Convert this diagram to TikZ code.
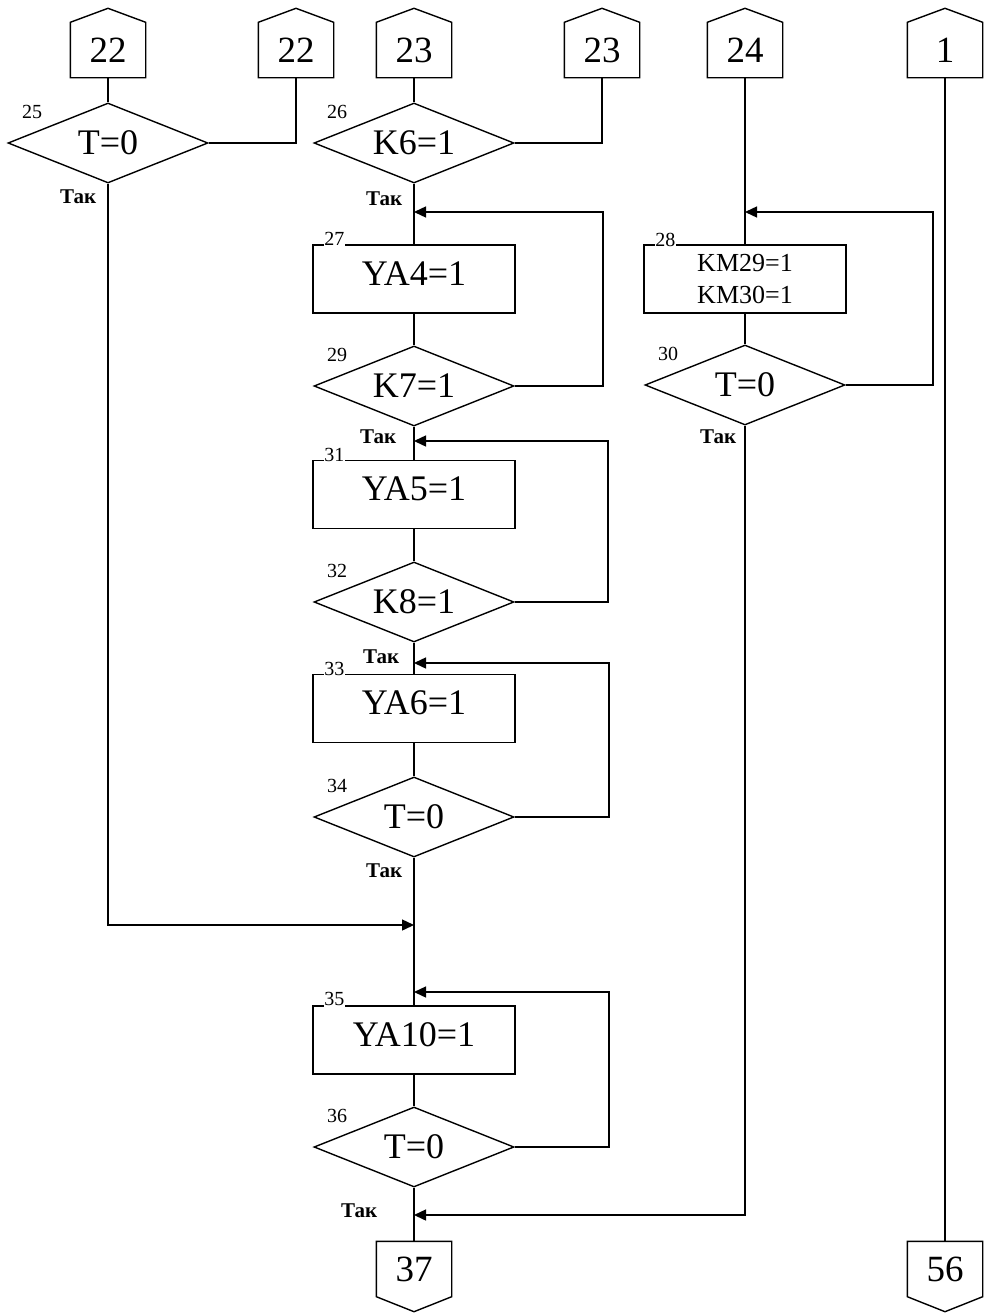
\documentclass[tikz,border=0pt]{standalone}
\usepackage{fontspec}
\setmainfont{Liberation Serif}
\usetikzlibrary{shapes.geometric,arrows.meta,calc}

% off-page connectors: pentagon pointing up (entry) or down (exit)
\newcommand\upcap[1]{\draw (#1.south west) -- (#1.north west) -- ([yshift=14pt]#1.north) -- (#1.north east) -- (#1.south east) -- cycle;}
\newcommand\downcap[1]{\draw (#1.north west) -- (#1.south west) -- ([yshift=-15pt]#1.south) -- (#1.south east) -- (#1.north east) -- cycle;}

\begin{document}
\begin{tikzpicture}[x=1pt,y=-1pt,
  line width=1.4pt, line join=miter,
  big/.style={font=\fontsize{36}{40}\selectfont},
  dec/.style={diamond, draw, inner sep=0pt, minimum width=200pt, minimum height=80pt},
  dtext/.style={big, inner sep=0pt},
  boxbase/.style={rectangle, draw, inner sep=0pt, minimum width=202pt, minimum height=68pt},
  act/.style={boxbase, big, text height=24pt, text depth=12pt},
  act2/.style={boxbase, font=\fontsize{26}{31.5}\selectfont, align=center},
  conn/.style={rectangle, inner sep=0pt, minimum width=74pt, minimum height=54pt, font=\fontsize{37}{40}\selectfont},
  num/.style={inner sep=0.5pt, font=\fontsize{20}{22}\selectfont},
  boxnum/.style={num, fill=white},
  yes/.style={inner sep=0pt, anchor=north east, font=\fontsize{21}{22}\selectfont\bfseries},
  arr/.style={-{Triangle[length=12pt,width=11pt]}},
]
\useasboundingbox (0,0) rectangle (985,1314);

% connectors
\node[conn] (c22a) at (108,50) {22};
\node[conn] (c22b) at (296,50) {22};
\node[conn] (c23a) at (414,50) {23};
\node[conn] (c23b) at (602,50) {23};
\node[conn] (c24)  at (745,50) {24};
\node[conn] (c1)   at (945,50) {1};
\node[conn] (c37)  at (414,1269) {37};
\node[conn] (c56)  at (945,1269) {56};
\upcap{c22a}\upcap{c22b}\upcap{c23a}\upcap{c23b}\upcap{c24}\upcap{c1}
\downcap{c37}\downcap{c56}

% decisions (fixed-size outline, condition text laid on top)
\node[dec] (d25) at (108,143) {};  \node[dtext] (t25) at (d25) {T=0};
\node[dec] (d26) at (414,143) {};  \node[dtext] (t26) at (d26) {K6=1};
\node[dec] (d29) at (414,386) {};  \node[dtext] (t29) at (d29) {K7=1};
\node[dec] (d32) at (414,602) {};  \node[dtext] (t32) at (d32) {K8=1};
\node[dec] (d34) at (414,817) {};  \node[dtext] (t34) at (d34) {T=0};
\node[dec] (d36) at (414,1147) {}; \node[dtext] (t36) at (d36) {T=0};
\node[dec] (d30) at (745,385) {};  \node[dtext] (t30) at (d30) {T=0};

% actions
\node[act] (b27) at (414,279) {YA4=1};
\node[act] (b31) at (414,494.5) {YA5=1};
\node[act] (b33) at (414,708.5) {YA6=1};
\node[act] (b35) at (414,1040) {YA10=1};
\node[act2] (b28) at (745,279) {KM29=1\\KM30=1};

% block numbers
\node[num] (n25) at ($(d25.center)+(-76,-31)$) {25};
\node[num] (n26) at ($(d26.center)+(-77,-31)$) {26};
\node[num] (n29) at ($(d29.center)+(-77,-31)$) {29};
\node[num] (n32) at ($(d32.center)+(-77,-31)$) {32};
\node[num] (n34) at ($(d34.center)+(-77,-31)$) {34};
\node[num] (n36) at ($(d36.center)+(-77,-31)$) {36};
\node[num] (n30) at ($(d30.center)+(-77,-31)$) {30};
\node[boxnum] (n27) at ($(b27.north west)+(22,-5)$) {27};
\node[boxnum] (n31) at ($(b31.north west)+(22,-5)$) {31};
\node[boxnum] (n33) at ($(b33.north west)+(22,-5)$) {33};
\node[boxnum] (n35) at ($(b35.north west)+(22,-6)$) {35};
\node[boxnum] (n28) at ($(b28.north west)+(22,-4)$) {28};

% "yes" labels
\node[yes] (y25) at ($(d25.south)+(-11,5)$) {Так};
\node[yes] (y26) at ($(d26.south)+(-11,7)$) {Так};
\node[yes] (y29) at ($(d29.south)+(-17,2)$) {Так};
\node[yes] (y32) at ($(d32.south)+(-14,6)$) {Так};
\node[yes] (y34) at ($(d34.south)+(-11,5)$) {Так};
\node[yes] (y30) at ($(d30.south)+(-8,3)$) {Так};
\node[yes] (y36) at ($(d36.south)+(-36,15)$) {Так};

% junction points
\coordinate (j27) at (414,212); \coordinate (k27) at (603,212);
\coordinate (j31) at (414,441); \coordinate (k31) at (608,441);
\coordinate (j33) at (414,663); \coordinate (k33) at (609,663);
\coordinate (j35) at (414,992); \coordinate (k35) at (609,992);
\coordinate (j28) at (745,212); \coordinate (k28) at (933,212);
\coordinate (jm) at (414,925);
\coordinate (jf) at (414,1215);

% main trunk
\draw (c22a.south) -- (d25.north);
\draw (d25.east) -| (c22b.south);
\draw (c23a.south) -- (d26.north);
\draw (d26.east) -| (c23b.south);
\draw (d26.south) -- (b27.north);
\draw (b27.south) -- (d29.north);
\draw (d29.south) -- (b31.north);
\draw (b31.south) -- (d32.north);
\draw (d32.south) -- (b33.north);
\draw (b33.south) -- (d34.north);
\draw (d34.south) -- (b35.north);
\draw (b35.south) -- (d36.north);
\draw (d36.south) -- (c37.north);

% loops back
\draw[arr] (d29.east) -| (k27) -- (j27);
\draw[arr] (d32.east) -| (k31) -- (j31);
\draw[arr] (d34.east) -| (k33) -- (j33);
\draw[arr] (d36.east) -| (k35) -- (j35);
\draw[arr] (d25.south) |- (jm);

% right branch
\draw (c24.south) -- (b28.north);
\draw (b28.south) -- (d30.north);
\draw[arr] (d30.east) -| (k28) -- (j28);
\draw[arr] (d30.south) |- (jf);
\draw (c1.south) -- (c56.north);
\end{tikzpicture}
\end{document}
